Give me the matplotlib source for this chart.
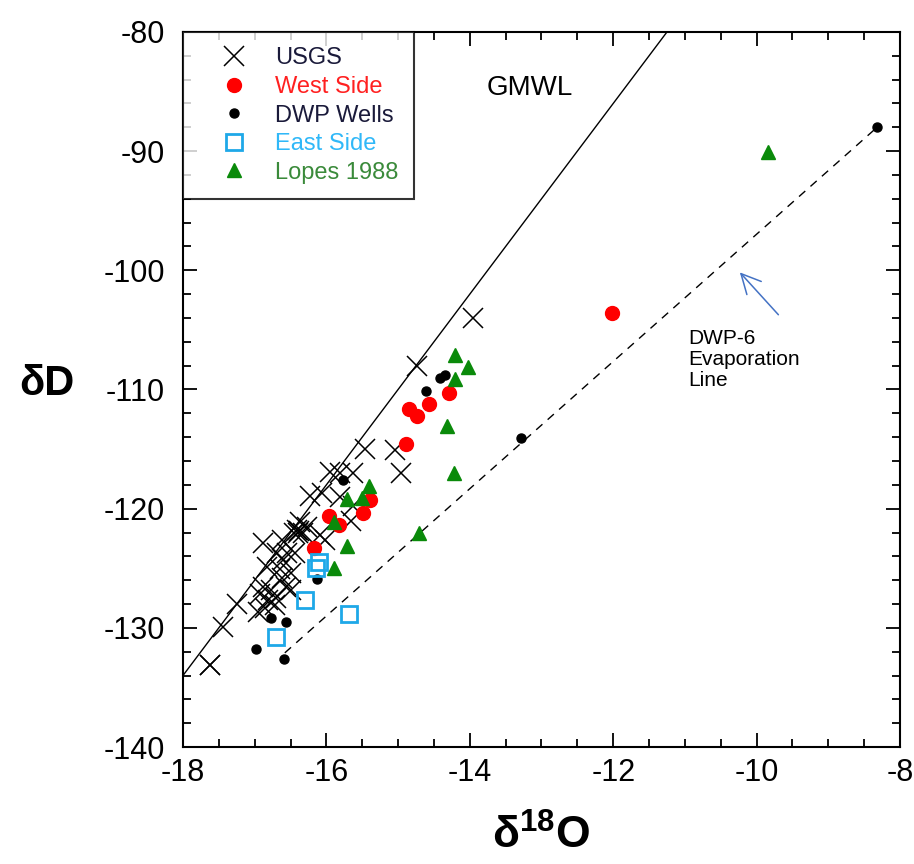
import matplotlib
matplotlib.use('Agg')
import matplotlib.pyplot as plt
from matplotlib.ticker import MultipleLocator
import numpy as np

plt.rcParams['font.family'] = ['Liberation Sans', 'DejaVu Sans']
plt.rcParams['axes.unicode_minus'] = False
plt.rcParams['mathtext.fontset'] = 'custom'
plt.rcParams['mathtext.bf'] = 'Liberation Sans:bold'
plt.rcParams['mathtext.rm'] = 'Liberation Sans'

# USGS samples (d18O, dD)
usgs_o = [-13.96, -14.74, -15.04, -15.46, -14.96, -15.63, -15.81, -15.95, -15.81, -16.06,
          -16.23, -15.63, -15.65, -16.37, -16.27, -16.41, -16.45, -16.33, -16.09, -16.02,
          -16.62, -16.88, -16.44, -16.55, -16.69, -16.60, -16.83, -16.65, -16.50, -16.88,
          -16.77, -16.56, -16.49, -16.93, -16.81, -16.72, -16.86, -16.95, -17.25, -17.44,
          -17.62, -17.62, -16.70, -16.62, -16.40, -16.38]
usgs_d = [-104.0, -108.0, -115.1, -115.0, -117.0, -117.0, -117.0, -116.9, -119.0, -118.7,
          -118.9, -119.8, -121.0, -121.1, -121.5, -121.8, -122.0, -122.0, -122.2, -122.6,
          -122.6, -122.9, -123.7, -123.7, -123.7, -124.3, -124.9, -125.1, -125.4, -126.6,
          -126.8, -126.6, -126.8, -127.2, -127.7, -128.1, -128.3, -128.7, -128.0, -129.9,
          -133.1, -133.1, -127.5, -125.8, -122.0, -121.9]

west_o = [-12.02, -14.29, -14.57, -14.85, -14.74, -14.89, -15.39, -15.49, -15.96, -15.82, -16.17]
west_d = [-103.6, -110.3, -111.2, -111.6, -112.2, -114.6, -119.3, -120.4, -120.6, -121.4, -123.3]

dwp_o = [-8.32, -13.29, -14.35, -14.42, -14.61, -15.77, -16.13, -16.77, -16.56, -16.98, -16.59]
dwp_d = [-88.0, -114.1, -108.8, -109.0, -110.1, -117.6, -125.9, -129.2, -129.5, -131.8, -132.6]

east_o = [-16.70, -16.30, -15.68, -16.10, -16.14]
east_d = [-130.8, -127.7, -128.8, -124.5, -125.0]

lopes_o = [-9.84, -14.21, -14.03, -14.21, -14.32, -14.22, -15.41, -15.50, -15.71, -14.71,
           -15.89, -15.71, -15.89]
lopes_d = [-90.1, -107.1, -108.1, -109.1, -113.1, -117.0, -118.1, -119.1, -119.2, -122.0,
           -121.1, -123.1, -125.0]

# global meteoric water line: dD = 8 d18O + 10
gmwl_o = np.array([-18.0, -11.25])
gmwl_d = 8 * gmwl_o + 10

# DWP-6 evaporation line end points
evap_o = [-16.58, -8.32]
evap_d = [-132.1, -88.0]

east_color = '#1EA8E8'
green = '#0A8A0A'

fig = plt.figure(figsize=(9.14, 8.64), dpi=100)
ax = fig.add_axes([0.2002, 0.1354, 0.7845, 0.8276])

ax.plot(gmwl_o, gmwl_d, color='black', lw=1.0)
ax.plot(evap_o, evap_d, color='black', lw=1.0, ls=(0, (6, 5)))

ax.plot(usgs_o, usgs_d, ls='none', marker='x', ms=14, mew=1.1, color='black', label='USGS')
ax.plot(west_o, west_d, ls='none', marker='o', ms=10, color='#FF0000', label='West Side')
ax.plot(dwp_o, dwp_d, ls='none', marker='o', ms=6.5, color='black', label='DWP Wells')
ax.plot(east_o, east_d, ls='none', marker='s', ms=12, mfc='none', mec=east_color, mew=2,
        label='East Side')
ax.plot(lopes_o, lopes_d, ls='none', marker='^', ms=10, color=green, label='Lopes 1988')

ax.set_xlim(-18, -8)
ax.set_ylim(-140, -80)
ax.xaxis.set_major_locator(MultipleLocator(2))
ax.xaxis.set_minor_locator(MultipleLocator(0.5))
ax.yaxis.set_major_locator(MultipleLocator(10))
ax.yaxis.set_minor_locator(MultipleLocator(2))
ax.tick_params(which='both', direction='in', top=True, right=True, width=1.3, labelsize=22)
ax.tick_params(axis='x', pad=8)
ax.tick_params(axis='y', pad=13)
ax.tick_params(which='major', length=10)
ax.tick_params(which='minor', length=6)
for s in ax.spines.values():
    s.set_linewidth(1.5)

ax.set_xlabel(r'δ$^{\mathbf{18}}$O', fontsize=32, fontweight='bold', labelpad=19)
ax.set_ylabel('δD', fontsize=30, fontweight='bold', rotation=0, va='center')
ax.yaxis.set_label_coords(-0.19, 0.508)

ax.text(-13.76, -84.7, 'GMWL', fontsize=20, ha='left', va='center')
ax.text(-10.96, -107.5, 'DWP-6\nEvaporation\nLine', fontsize=15, ha='left', va='center',
        linespacing=1.15)
ax.annotate('', xy=(-10.26, -100.0), xytext=(-9.67, -103.9),
            arrowprops=dict(arrowstyle='->,head_length=0.7,head_width=0.35',
                            color='#4472C4', lw=1.1, mutation_scale=20))

leg = ax.legend(loc='upper left', borderaxespad=0, fancybox=False, edgecolor='black',
                handletextpad=0.25, borderpad=0.65, labelspacing=0.28, handlelength=3.0,
                labelcolor=['#1a1a3a', '#FF2020', '#1a1a3a', '#30B8F8', '#3A8A3A'],
                prop={'size': 17})
leg.get_frame().set_linewidth(1.5)
leg.set_zorder(5)

fig.savefig('out.png', dpi=100, facecolor='white')
